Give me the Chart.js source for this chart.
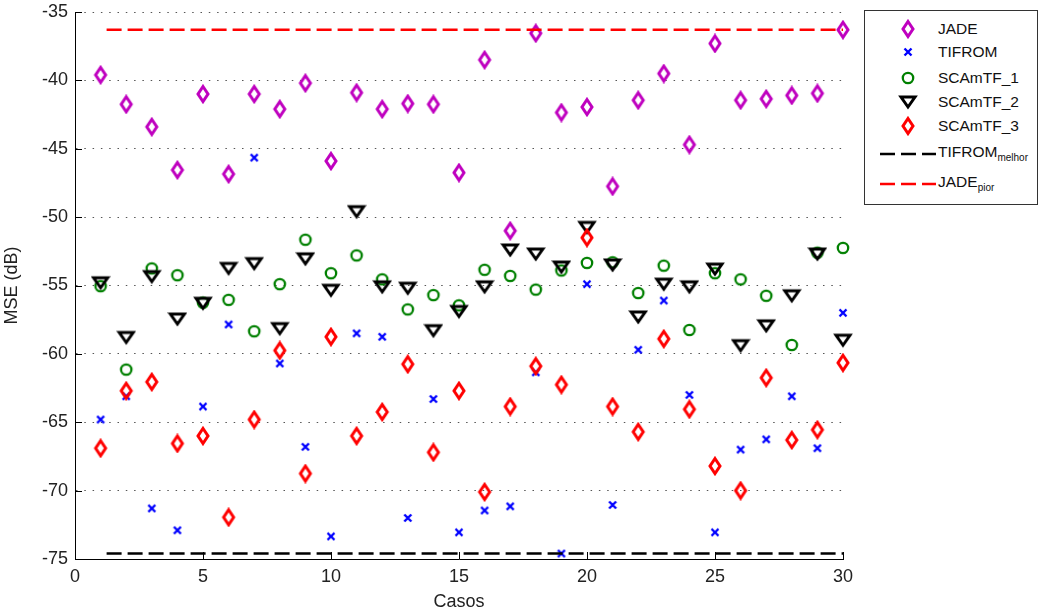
<!DOCTYPE html>
<html>
<head>
<meta charset="utf-8">
<title>MSE por caso</title>
<script src="https://cdn.jsdelivr.net/npm/chart.js@4.4.0/dist/chart.umd.min.js"></script>
<style>
  html, body { margin: 0; padding: 0; background: #fff; }
  #wrap { position: relative; width: 1039px; height: 615px; }
  #chart { position: absolute; left: 0; top: 0; }
  #legend {
    position: absolute; left: 864px; top: 10px; width: 172px; height: 193px;
    border: 1px solid #333; background: #fff;
    font-family: "Liberation Sans", Arial, sans-serif; font-size: 15.5px; color: #111;
  }
  .row { position: absolute; left: 0; width: 100%; height: 20px; }
  .row canvas { position: absolute; }
  .row span { position: absolute; left: 73px; top: 0; line-height: 20px; white-space: nowrap; }
  .row sub { font-size: 10px; vertical-align: -4px; line-height: 0; }
</style>
</head>
<body>
<div id="wrap">
  <canvas id="chart" width="1039" height="615"></canvas>
  <div id="legend"></div>
</div>
<script>
const cases = [1, 2, 3, 4, 5, 6, 7, 8, 9, 10, 11, 12, 13, 14, 15,
               16, 17, 18, 19, 20, 21, 22, 23, 24, 25, 26, 27, 28, 29, 30];

const jade = [-39.6, -41.75, -43.4, -46.55, -41.0, -46.85, -41.0, -42.1, -40.2, -45.9,
              -40.9, -42.1, -41.7, -41.75, -46.75, -38.5, -51.0, -36.55, -42.35, -41.95,
              -47.75, -41.45, -39.5, -44.7, -37.3, -41.45, -41.35, -41.1, -40.95, -36.3];

const tifrom = [-64.8, -63.1, -71.3, -72.9, -63.85, -57.85, -45.65, -60.7, -66.8, -73.35,
                -58.5, -58.75, -72.0, -63.3, -73.05, -71.45, -71.15, -61.35, -74.6, -54.9,
                -71.05, -59.7, -56.1, -63.0, -73.05, -67.0, -66.25, -63.1, -66.9, -57.0];

const scamtf1 = [-55.05, -61.15, -53.75, -54.25, -56.25, -56.05, -58.35, -54.9, -51.65, -54.1,
                 -52.8, -54.55, -56.75, -55.7, -56.45, -53.85, -54.3, -55.3, -53.9, -53.35,
                 -53.3, -55.55, -53.55, -58.25, -54.1, -54.55, -55.75, -59.35, -52.6, -52.25];

const scamtf2 = [-54.8, -58.8, -54.35, -57.45, -56.3, -53.75, -53.4, -58.15, -53.05, -55.35,
                 -49.6, -55.1, -55.2, -58.3, -56.9, -55.1, -52.4, -52.7, -53.65, -50.75,
                 -53.5, -57.3, -54.9, -55.1, -53.8, -59.4, -57.95, -55.75, -52.7, -59.0];

const scamtf3 = [-66.9, -62.7, -62.05, -66.55, -66.0, -71.95, -64.8, -59.75, -68.75, -58.75,
                 -66.0, -64.25, -60.75, -67.2, -62.7, -70.1, -63.85, -60.9, -62.25, -51.5,
                 -63.85, -65.7, -58.9, -64.05, -68.2, -70.0, -61.75, -66.3, -65.55, -60.65];

// reference levels, drawn as dashed lines from the first to the last case
const tifromMelhor = -74.6;
const jadePior = -36.3;

const xTicks = [0, 5, 10, 15, 20, 25, 30];
const yTicks = [-75, -70, -65, -60, -55, -50, -45, -40, -35];

const FONT = '"Liberation Sans", Arial, sans-serif';

// small canvases used as point styles (and reused in the legend)
function marker(kind, color) {
  const c = document.createElement('canvas');
  const g = c.getContext('2d');
  g.strokeStyle = color;
  g.lineJoin = 'miter';
  if (kind === 'diamond') {
    c.width = 16; c.height = 20;
    g.strokeStyle = color; g.lineWidth = 3;
    g.beginPath();
    g.moveTo(8, 2.5); g.lineTo(13, 10); g.lineTo(8, 17.5); g.lineTo(3, 10); g.closePath();
    g.stroke();
  } else if (kind === 'cross') {
    c.width = 10; c.height = 10;
    g.strokeStyle = color; g.lineWidth = 2.4;
    g.beginPath();
    g.moveTo(1.5, 1.5); g.lineTo(8.5, 8.5);
    g.moveTo(8.5, 1.5); g.lineTo(1.5, 8.5);
    g.stroke();
  } else if (kind === 'circle') {
    c.width = 16; c.height = 16;
    g.strokeStyle = color; g.lineWidth = 2.3;
    g.beginPath();
    g.arc(8, 8, 5.2, 0, Math.PI * 2);
    g.stroke();
  } else if (kind === 'triangle') {
    c.width = 20; c.height = 18;
    g.strokeStyle = color; g.lineWidth = 3;
    g.beginPath();
    g.moveTo(3, 4); g.lineTo(17, 4); g.lineTo(10, 14); g.closePath();
    g.stroke();
  }
  return c;
}

function dashSample(color) {
  const c = document.createElement('canvas');
  c.width = 56; c.height = 6;
  const g = c.getContext('2d');
  g.strokeStyle = color; g.lineWidth = 2.5;
  g.setLineDash([15, 6]);
  g.beginPath(); g.moveTo(0, 3); g.lineTo(56, 3); g.stroke();
  return c;
}

const series = [
  { label: 'JADE',     values: jade,    color: '#bf00bf', kind: 'diamond' },
  { label: 'TIFROM',   values: tifrom,  color: '#0000ff', kind: 'cross' },
  { label: 'SCAmTF_1', values: scamtf1, color: '#008000', kind: 'circle' },
  { label: 'SCAmTF_2', values: scamtf2, color: '#000000', kind: 'triangle' },
  { label: 'SCAmTF_3', values: scamtf3, color: '#ff0000', kind: 'diamond' }
];

const toPoints = vals => cases.map((c, i) => ({ x: c, y: vals[i] }));
const levelLine = v => [{ x: cases[0], y: v }, { x: cases[cases.length - 1], y: v }];

const datasets = series.map((s, i) => ({
  label: s.label,
  data: toPoints(s.values),
  pointStyle: marker(s.kind, s.color),
  pointRadius: 7,
  borderColor: s.color,
  showLine: false,
  clip: false,
  order: 10 - i
}));

datasets.push({
  label: 'TIFROM_melhor',
  data: levelLine(tifromMelhor),
  showLine: true, borderColor: '#000', borderWidth: 2.5,
  borderDash: [15, 6], borderDashOffset: 15,
  pointRadius: 0, clip: false, order: 2
});
datasets.push({
  label: 'JADE_pior',
  data: levelLine(jadePior),
  showLine: true, borderColor: '#ff0000', borderWidth: 2.5,
  borderDash: [15, 6], borderDashOffset: 15,
  pointRadius: 0, clip: false, order: 1
});

// tick marks pointing into the plot on the left and bottom axes
const inwardTicks = {
  id: 'inwardTicks',
  beforeDatasetsDraw(chart) {
    const { ctx, chartArea: a, scales: { x, y } } = chart;
    ctx.save();
    ctx.strokeStyle = '#000';
    ctx.lineWidth = 1;
    ctx.beginPath();
    yTicks.forEach(v => {
      const py = Math.round(y.getPixelForValue(v)) + 0.5;
      ctx.moveTo(a.left, py); ctx.lineTo(a.left + 7, py);
    });
    xTicks.forEach(v => {
      const px = Math.round(x.getPixelForValue(v)) + 0.5;
      ctx.moveTo(px, a.bottom); ctx.lineTo(px, a.bottom - 7);
    });
    ctx.stroke();
    ctx.restore();
  }
};

new Chart(document.getElementById('chart'), {
  type: 'scatter',
  data: { datasets: datasets },
  options: {
    responsive: false,
    animation: false,
    events: [],
    layout: { padding: { left: 0, top: 12, right: 196, bottom: 0 } },
    plugins: { legend: { display: false }, tooltip: { enabled: false } },
    scales: {
      x: {
        type: 'linear', min: 0, max: 30,
        afterBuildTicks: scale => { scale.ticks = xTicks.map(v => ({ value: v })); },
        afterFit: scale => { scale.height = 56; },
        ticks: { padding: 7, color: '#222', font: { family: FONT, size: 18 } },
        grid: { display: false, drawTicks: false },
        border: { display: true, color: '#000', width: 1 },
        title: { display: true, text: 'Casos', color: '#222',
                 font: { family: FONT, size: 18 }, padding: { top: 0, bottom: 2 } }
      },
      y: {
        type: 'linear', min: -75, max: -35,
        afterBuildTicks: scale => { scale.ticks = yTicks.map(v => ({ value: v })); },
        afterFit: scale => {
          scale.width = 75;
          // let the layout padding alone decide the top/bottom of the plot
          scale.paddingTop = 0;
          scale.paddingBottom = 0;
        },
        ticks: { padding: 7, color: '#222', font: { family: FONT, size: 18 } },
        grid: { color: '#555', lineWidth: 1, drawTicks: false },
        border: { display: true, color: '#000', width: 1, dash: [1.5, 6.8] },
        title: { display: true, text: 'MSE (dB)', color: '#222',
                 font: { family: FONT, size: 18 }, padding: { top: 1, bottom: 0 } }
      }
    }
  },
  plugins: [inwardTicks]
});

// legend box, markers at x=43 and text at x=73 inside the frame
const legend = document.getElementById('legend');
const legendRows = [
  { text: 'JADE',     y: 18,  icon: () => marker('diamond', '#bf00bf') },
  { text: 'TIFROM',   y: 41,  icon: () => marker('cross', '#0000ff') },
  { text: 'SCAmTF_1', y: 67,  icon: () => marker('circle', '#008000') },
  { text: 'SCAmTF_2', y: 91,  icon: () => marker('triangle', '#000000') },
  { text: 'SCAmTF_3', y: 115, icon: () => marker('diamond', '#ff0000') },
  { text: 'TIFROM', sub: 'melhor', y: 141, line: true, icon: () => dashSample('#000') },
  { text: 'JADE', sub: 'pior', y: 171, line: true, icon: () => dashSample('#ff0000') }
];
legendRows.forEach(r => {
  const row = document.createElement('div');
  row.className = 'row';
  row.style.top = (r.y - 10) + 'px';
  const icon = r.icon();
  if (r.line) {
    icon.style.left = '15px';
    icon.style.top = (12 - icon.height / 2) + 'px';
  } else {
    icon.style.left = (43 - icon.width / 2) + 'px';
    icon.style.top = (10 - icon.height / 2) + 'px';
  }
  row.appendChild(icon);
  const label = document.createElement('span');
  label.textContent = r.text;
  if (r.sub) {
    const s = document.createElement('sub');
    s.textContent = r.sub;
    label.appendChild(s);
  }
  row.appendChild(label);
  legend.appendChild(row);
});
</script>
</body>
</html>
